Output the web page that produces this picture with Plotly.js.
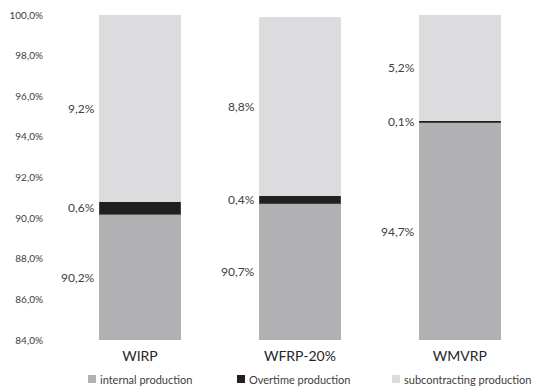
<!DOCTYPE html>
<html>
<head>
<meta charset="utf-8">
<script src="https://cdn.plot.ly/plotly-3.0.1.min.js"></script>
<style>
  html, body { margin: 0; padding: 0; background: #fff; }
  #chart { width: 535px; height: 386px; }
</style>
</head>
<body>
<div id="chart"></div>
<script>
// Production mix per scenario (share of total, %)
const scenarios = ["WIRP", "WFRP-20%", "WMVRP"];
const internalProduction = [90.2, 90.7, 94.7];
const overtimeProduction = [0.6, 0.4, 0.1];
const subcontractingProduction = [9.2, 8.8, 5.2];
const yTicks = [84, 86, 88, 90, 92, 94, 96, 98, 100];

const axisMin = 84, axisMax = 100;
const barWidth = 0.51;
const textColor = "#404040";
const fontFamily = "Lato, 'Open Sans', sans-serif";

const W = 535, H = 386;
const M = { l: 60, r: 0, t: 15, b: 46 };
const plotW = W - M.l - M.r, plotH = H - M.t - M.b;
// pixel -> paper helpers for the legend row below the plot
const px2x = px => (px - M.l) / plotW;
const py2y = py => (H - M.b - py) / plotH;

const seriesDefs = [
  { name: "internal production", values: internalProduction, color: "#b1b1b4", line: "#b1b1b4", legendX: 88 },
  { name: "Overtime production", values: overtimeProduction, color: "#231f20", line: "#4a4a4a", legendX: 237 },
  { name: "subcontracting production", values: subcontractingProduction, color: "#dcdcde", line: "#dcdcde", legendX: 392 }
];

const traces = seriesDefs.map(s => ({
  type: "bar",
  name: s.name,
  x: scenarios,
  y: s.values,
  width: barWidth,
  marker: { color: s.color, line: { color: s.line, width: 0.8 } },
  hoverinfo: "skip",
  showlegend: false
}));

// Value labels sit left of each bar, centred on the visible part of the segment
const annotations = [];
scenarios.forEach((cat, i) => {
  let base = 0;
  seriesDefs.forEach(s => {
    const v = s.values[i];
    const lo = Math.max(base, axisMin);
    const hi = Math.min(base + v, axisMax);
    annotations.push({
      x: i - barWidth / 2,
      y: (lo + hi) / 2,
      xref: "x", yref: "y",
      xanchor: "right", yanchor: "middle",
      xshift: -2,
      showarrow: false,
      text: v.toFixed(1).replace(".", ",") + "%",
      font: { family: fontFamily, size: 12, color: textColor }
    });
    base += v;
  });
});

// Legend row: small square swatch followed closely by the series name
const legendY = 379, sw = 8;
const shapes = [];
seriesDefs.forEach(s => {
  shapes.push({
    type: "rect", xref: "paper", yref: "paper",
    x0: px2x(s.legendX), x1: px2x(s.legendX + sw),
    y0: py2y(legendY + sw / 2), y1: py2y(legendY - sw / 2),
    fillcolor: s.color, line: { width: 0 }
  });
  annotations.push({
    x: px2x(s.legendX + sw + 2), y: py2y(legendY),
    xref: "paper", yref: "paper",
    xanchor: "left", yanchor: "middle",
    showarrow: false,
    text: s.name,
    font: { family: fontFamily, size: 11, color: textColor }
  });
});

const layout = {
  width: W, height: H,
  margin: M,
  paper_bgcolor: "#fff", plot_bgcolor: "#fff",
  barmode: "stack",
  separators: ", ",
  showlegend: false,
  xaxis: {
    type: "category",
    range: [-0.5, 2.47],
    showgrid: false, zeroline: false, showline: false,
    ticks: "",
    ticklabelstandoff: 6,
    tickfont: { family: fontFamily, size: 14, color: "#262626" },
    fixedrange: true
  },
  yaxis: {
    range: [axisMin, axisMax],
    tickvals: yTicks,
    ticktext: yTicks.map(t => t.toFixed(1).replace(".", ",") + "%"),
    showgrid: false, zeroline: false, showline: false,
    ticks: "outside", ticklen: 14, tickcolor: "rgba(0,0,0,0)",
    tickfont: { family: fontFamily, size: 10, color: textColor },
    fixedrange: true
  },
  shapes: shapes,
  annotations: annotations
};

Plotly.newPlot("chart", traces, layout, { displayModeBar: false, staticPlot: true });
</script>
</body>
</html>
